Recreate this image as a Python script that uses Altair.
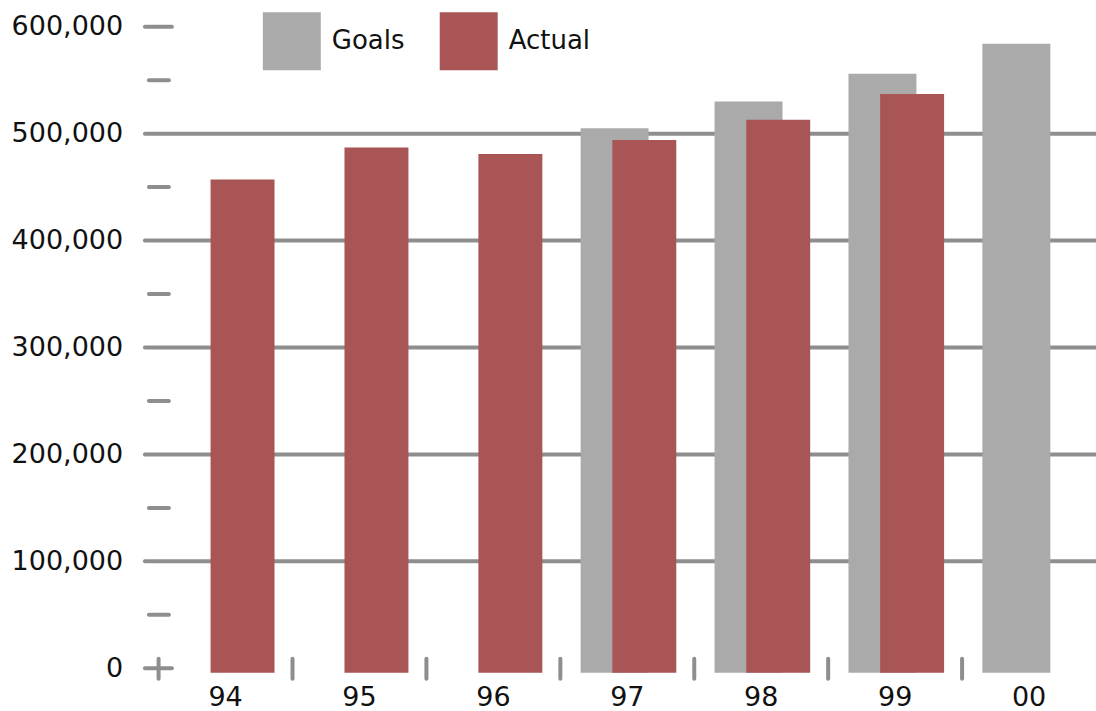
import altair as alt
import pandas as pd

years = ["94", "95", "96", "97", "98", "99", "00"]
goals = [None, None, None, 505000, 530000, 556000, 584000]
actual = [457000, 487000, 481000, 494000, 513000, 537000, None]
series = ["Goals", "Actual"]
colors = ["#AAAAAA", "#AA5555"]
y_labels = [0, 100000, 200000, 300000, 400000, 500000, 600000]
grid_values = [100000, 200000, 300000, 400000, 500000]
major_ticks = [0, 600000]
minor_ticks = [50000, 150000, 250000, 350000, 450000, 550000]

FONT = "DejaVu Sans"
W, H = 938, 642
GRID = "#8E8E8E"

rows = []
for yr, g, a in zip(years, goals, actual):
    if g is not None:
        rows.append({"year": yr, "series": "Goals", "value": g})
    if a is not None:
        rows.append({"year": yr, "series": "Actual", "value": a})
df = pd.DataFrame(rows)

yscale = alt.Scale(domain=[0, 600000], nice=False, zero=True)
xscale = alt.Scale(paddingInner=0, paddingOuter=0)

x_axis = alt.Axis(title=None, domain=False, ticks=False, tickSize=0, grid=False,
                  labelAngle=0, labelPadding=16, labelFontSize=27, labelFont=FONT,
                  labelColor="#111111", labelBaseline="top")
y_axis = alt.Axis(title=None, domain=False, ticks=False, tickSize=0, grid=False,
                  values=y_labels, format=",d", labelPadding=36, labelFontSize=27,
                  labelFont=FONT, labelColor="#111111")

color = alt.Color("series:N", scale=alt.Scale(domain=series, range=colors),
                  legend=alt.Legend(title=None, orient="none", legendX=104.3, legendY=-14.5,
                                    direction="horizontal", symbolType="square",
                                    symbolSize=3364, symbolStrokeWidth=0, symbolOpacity=1,
                                    labelFontSize=26, labelFont=FONT, labelColor="#111111",
                                    labelOffset=11, columnPadding=35, padding=0))

grid = alt.Chart(pd.DataFrame({"value": grid_values})).mark_rule(
    color=GRID, strokeWidth=4, strokeCap="round").encode(
    y=alt.Y("value:Q", scale=yscale, axis=y_axis),
    x=alt.value(-13.7), x2=alt.value(W))

major = alt.Chart(pd.DataFrame({"value": major_ticks})).mark_rule(
    color=GRID, strokeWidth=4, strokeCap="round").encode(
    y=alt.Y("value:Q", scale=yscale, axis=y_axis),
    x=alt.value(-13.7), x2=alt.value(13.3))

minor = alt.Chart(pd.DataFrame({"value": minor_ticks})).mark_rule(
    color=GRID, strokeWidth=4, strokeCap="round").encode(
    y=alt.Y("value:Q", scale=yscale, axis=y_axis),
    x=alt.value(-9.7), x2=alt.value(10.3))

xticks = alt.Chart(pd.DataFrame({"year": years})).mark_rule(
    color=GRID, strokeWidth=4, strokeCap="round").encode(
    x=alt.X("year:N", sort=years, scale=xscale, bandPosition=0, axis=x_axis),
    y=alt.value(632.5), y2=alt.value(652.5))

goal_bars = alt.Chart(df).transform_filter(alt.datum.series == "Goals").mark_bar(
    width=68, xOffset=-12.7, y2Offset=4.5).encode(
    x=alt.X("year:N", sort=years, scale=xscale, axis=x_axis),
    y=alt.Y("value:Q", scale=yscale, axis=y_axis),
    y2=alt.datum(0),
    color=color)

actual_bars = alt.Chart(df).transform_filter(alt.datum.series == "Actual").mark_bar(
    width=64, xOffset=17, y2Offset=4.5).encode(
    x=alt.X("year:N", sort=years, scale=xscale, axis=x_axis),
    y=alt.Y("value:Q", scale=yscale, axis=y_axis),
    y2=alt.datum(0),
    color=color)

chart = alt.layer(grid, major, minor, goal_bars, actual_bars, xticks).properties(
    width=W, height=H,
    autosize=alt.AutoSizeParams(type="none"),
    padding={"left": 158.7, "top": 26.5, "right": 0, "bottom": 42.5},
).configure_view(stroke=None)

chart.save("out.html", embed_options={"renderer": "svg", "actions": False})
